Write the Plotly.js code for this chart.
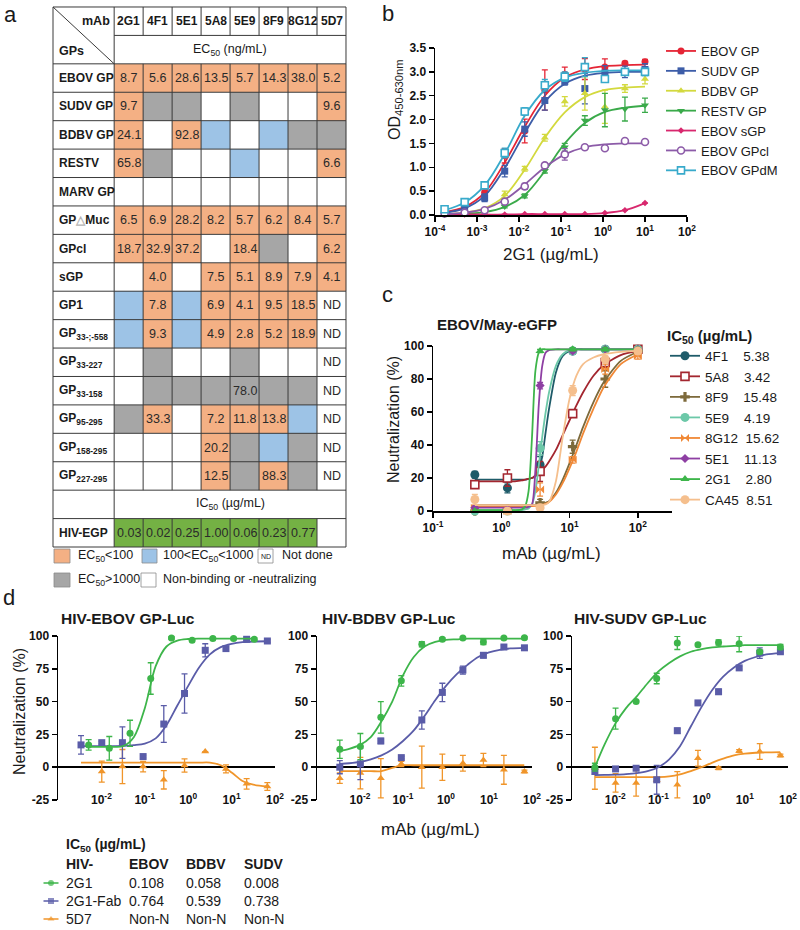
<!DOCTYPE html>
<html>
<head>
<meta charset="utf-8">
<script src="https://cdn.plot.ly/plotly-3.0.1.min.js"></script>
<style>
html,body{margin:0;padding:0;background:#ffffff;}
#chart{width:800px;height:930px;}
</style>
</head>
<body>
<div id="chart"></div>
<script>
// ======================= DATA =======================
// ---- Panel a : binding / neutralization table ----
const mAbs = ['2G1','4F1','5E1','5A8','5E9','8F9','8G12','5D7'];
const gpLabels = ['EBOV GP','SUDV GP','BDBV GP','RESTV','MARV GP',
  'GP<span style="color:#b5b5b5">△</span>Muc','GPcl','sGP','GP1',
  'GP<sub>33-;-558</sub>','GP<sub>33-227</sub>','GP<sub>33-158</sub>',
  'GP<sub>95-295</sub>','GP<sub>158-295</sub>','GP<sub>227-295</sub>'];
// o: EC50<100, b: 100<EC50<1000, g: EC50>1000, w: non-binding, n: not done
const ec50Class = ['oooooooo','oggwgwwo','owobwbgg','ogwwbwwo','wwwwwwww',
  'oooooooo','ooowogwo','wowooooo','boboooon','boboooon',
  'wgwwgwwn','wggggggn','gowooobn','wwwogbgn','wwwogogn'];
const ec50Values = [
  ['8.7','5.6','28.6','13.5','5.7','14.3','38.0','5.2'],
  ['9.7','','','','','','','9.6'],
  ['24.1','','92.8','','','','',''],
  ['65.8','','','','','','','6.6'],
  ['','','','','','','',''],
  ['6.5','6.9','28.2','8.2','5.7','6.2','8.4','5.7'],
  ['18.7','32.9','37.2','','18.4','','','6.2'],
  ['','4.0','','7.5','5.1','8.9','7.9','4.1'],
  ['','7.8','','6.9','4.1','9.5','18.5','ND'],
  ['','9.3','','4.9','2.8','5.2','18.9','ND'],
  ['','','','','','','','ND'],
  ['','','','','78.0','','','ND'],
  ['','33.3','','7.2','11.8','13.8','','ND'],
  ['','','','20.2','','','','ND'],
  ['','','','12.5','','88.3','','ND']
];
const hivLabel = 'HIV-EGP';
const hivIC50 = ['0.03','0.02','0.25','1.00','0.06','0.23','0.77',''];
const hivClass = 'GGGGGGGw';

// ---- Panel b : ELISA binding of 2G1 ----
const bConc = [0.000169,0.000508,0.00152,0.00457,0.0137,0.0412,0.123,0.370,1.11,3.33,10];
const bNames = ['EBOV GP','SUDV GP','BDBV GP','RESTV GP','EBOV sGP','EBOV GPcl','EBOV GPdM'];
const bEBOVGP   = [0.06,0.16,0.47,1.24,1.76,2.62,2.95,3.06,3.10,3.18,3.21];
const bSUDVGP   = [0.05,0.15,0.36,0.92,1.80,2.40,2.80,2.65,2.98,3.00,3.05];
const bBDBVGP   = [0.02,0.05,0.10,0.43,0.97,1.62,2.38,2.55,2.27,2.65,2.85];
const bRESTVGP  = [0.01,0.03,0.06,0.18,0.40,0.93,1.42,1.98,2.20,2.22,2.30];
const bEBOVsGP  = [0.01,0.01,0.01,0.01,0.02,0.02,0.02,0.02,0.04,0.10,0.25];
const bEBOVGPcl = [0.03,0.05,0.10,0.28,0.60,1.04,1.27,1.42,1.40,1.55,1.53];
const bEBOVGPdM = [0.12,0.27,0.62,1.30,2.17,2.72,2.90,3.10,2.85,3.00,3.00];
const bEBOVGPErr   = [0.02,0.04,0.05,0.15,0.25,0.42,0.15,0.22,0.17,0.04,0.05];
const bSUDVGPErr   = [0.02,0.04,0.08,0.12,0.15,0.20,0.08,0.32,0.15,0.12,0.12];
const bBDBVGPErr   = [0.01,0.02,0.03,0.07,0.05,0.07,0.10,0.35,0.35,0.08,0.10];
const bRESTVGPErr  = [0.01,0.01,0.02,0.03,0.04,0.05,0.08,0.10,0.35,0.25,0.15];
const bEBOVsGPErr  = [0,0,0,0,0,0,0,0,0,0,0];
const bEBOVGPclErr = [0.01,0.02,0.02,0.04,0.06,0.04,0.12,0.05,0.03,0.02,0.02];
const bEBOVGPdMErr = [0.02,0.03,0.05,0.10,0.08,0.12,0.10,0.20,0.05,0.06,0.08];
// fitted curves read at the same concentrations
const bEBOVGPFit   = [0.06,0.17,0.47,1.10,1.85,2.50,2.88,3.05,3.12,3.14,3.15];
const bSUDVGPFit   = [0.05,0.14,0.40,0.98,1.72,2.37,2.75,2.92,2.98,3.00,3.00];
const bBDBVGPFit   = [0.02,0.05,0.14,0.40,0.95,1.62,2.15,2.47,2.62,2.67,2.69];
const bRESTVGPFit  = [0.01,0.03,0.06,0.17,0.42,0.92,1.50,1.93,2.16,2.25,2.29];
const bEBOVsGPFit  = [0.01,0.01,0.01,0.01,0.02,0.02,0.02,0.02,0.04,0.10,0.25];
const bEBOVGPclFit = [0.02,0.05,0.13,0.32,0.64,1.00,1.27,1.42,1.48,1.50,1.50];
const bEBOVGPdMFit = [0.10,0.26,0.62,1.28,2.08,2.62,2.88,2.98,3.02,3.03,3.03];
const bTickVals = [1e-4,1e-3,1e-2,1e-1,1,10,100];
const bTickText = ['10<sup>-4</sup>','10<sup>-3</sup>','10<sup>-2</sup>','10<sup>-1</sup>','10<sup>0</sup>','10<sup>1</sup>','10<sup>2</sup>'];

// ---- Panel c : EBOV/May-eGFP neutralization ----
const cConc = [0.41,1.23,3.7,11.1,33.3,100];
const cNames = ['4F1','5A8','8F9','5E9','8G12','5E1','2G1','CA45'];
const cIC50 = ['5.38','3.42','15.48','4.19','15.62','11.13','2.80','8.51'];
const c4F1  = [22,14,28,97,98,98];
const c5A8  = [16,20,24,59,90,98];
const c8F9  = [0,1,5,39,80,97];
const c5E9  = [0,0,38,97,98,98];
const c8G12 = [2,0,13,31,86,94];
const c5E1  = [2,1,76,97,98,98];
const c2G1  = [0,0,97,98,98,98];
const cCA45 = [7,0,2,73,92,97];
const c4F1Err  = [2,3,5,1,1,1];
const c5A8Err  = [2,5,6,2,3,1];
const c8F9Err  = [1,1,2,4,5,1];
const c5E9Err  = [1,1,4,1,1,1];
const c8G12Err = [1,1,4,2,3,2];
const c5E1Err  = [1,1,2,1,1,1];
const c2G1Err  = [0,0,1,1,1,1];
const cCA45Err = [3,1,2,3,2,1];
const cFitConc = [0.41,1.0,1.58,2.0,2.24,2.51,2.82,3.16,3.55,3.98,4.47,5.01,6.31,7.94,10.0,12.6,15.8,22.4,31.6,56.2,100];
const c4F1Fit  = [19,19,19,19,19,19.5,20,21,25,33,48,62,84,94,97,98,98,98,98,98,98];
const c5A8Fit  = [18,18,18,18.5,19,19.5,20,21.5,23,25,27,30,37,46,55,64,72,82,88.5,94.5,97];
const c8F9Fit  = [3.5,3.5,3.5,3.5,3.5,3.5,3.5,3.6,3.8,4,5,6,11,19,29,40,51,66,78,91,96.5];
const c5E9Fit  = [0.5,0.5,0.5,0.5,1,1.5,4,12,28,45,60,72,88,95,97.5,98,98,98,98,98,98];
const c8G12Fit = [3,3,3,3,3,3,3,3.1,3.3,3.6,4.5,5.5,10,17,26,36,47,62,75,89,95];
const c5E1Fit  = [2,2,2,2,2,2.5,4,25,65,88,96,97.5,98,98,98,98,98,98,98,98,98];
const c2G1Fit  = [0.5,0.5,0.5,1,3,12,45,85,96,98,98,98,98,98,98,98,98,98,98,98,98];
const cCA45Fit = [3.5,3.5,3.5,3.5,3.5,3.5,3.5,3.5,3.5,3.6,4,5.5,18,45,68,82,89,93,95,96.5,97];
const cTickVals = [0.1,1,10,100];
const cTickText = ['10<sup>-1</sup>','10<sup>0</sup>','10<sup>1</sup>','10<sup>2</sup>'];

// ---- Panel d : HIV pseudovirus neutralization ----
const dSeries = ['2G1','2G1-Fab','5D7'];
const dConcA = [0.00339,0.0102,0.0305,0.0914,0.274,0.823,2.47,7.41,22.2,66.7];
const dConcEbov2G1 = [0.00508,0.0152,0.0457,0.137,0.412,1.23,3.70,11.1,33.3];
const dConcEbov5D7 = [0.0102,0.0305,0.0914,0.274,0.823,2.47,7.41,22.2,66.7];
const dEbov2G1 = [17,14.4,25.8,67.6,98.5,96.7,98,98,97.5];
const dEbovFab = [17,18.7,18.7,8.1,32.9,56.2,89.1,90.4,97.5,96.2];
const dEbov5D7 = [-3.3,0.5,0.5,-9.6,1.3,11.9,-1.3,-12.7,-14.7];
const dEbov2G1Err = [4,9,10,12,1,1,1,1,1];
const dEbovFabErr = [7,1,12,1,14,15,5,1,1,1];
const dEbov5D7Err = [8,13,4,7,5,0,3,4,3];
const dBdbv2G1 = [13.7,15.7,38,65.8,93.7,97.5,98.5,95.4,98.5,98.7];
const dBdbvFab = [0,2.5,20,7.3,36,57,74,85.3,91.6,91];
const dBdbv5D7 = [-8.4,-4.5,-8.4,2.5,0,0,3,5.5,-2,-3.3];
const dBdbv2G1Err = [7,10,12,4,2,1,1,2,1,1];
const dBdbvFabErr = [5,12,2,1,7,7,3,2,1,1];
const dBdbv5D7Err = [4,12,15,2,16,10,6,5,11,1];
const dSudv2G1 = [0,37,50,67.6,94.7,93.4,95,94,88,91.6];
const dSudvFab = [-3.3,-1.3,-0.8,-9.6,27.8,49,57.5,75.7,87,88];
const dSudv5D7 = [-0.8,-12,-12,-10,-13.4,6.8,-0.8,12.4,11.9,8.9];
const dSudv2G1Err = [3,8,1,4,5,1,2,6,1,2];
const dSudvFabErr = [2,1,1,11,2,1,2,1,4,1];
const dSudv5D7Err = [16,7,10,0,10,6,1,1,6,1];
const dFitConc = [0.00339,0.00562,0.01,0.0178,0.0316,0.0562,0.1,0.178,0.316,0.562,1,1.78,3.16,5.62,10,17.8,31.6,66.1];
const dEbov2G1Fit = [null,15.5,15.5,15.5,16,23,45,77,92,96.5,97.7,98,98,98,98,98,98,null];
const dEbovFabFit = [16,16,16,16.1,16.2,16.8,18,22,32,47,62,76,86,91.5,94,95.3,95.8,96];
const dEbov5D7Fit = [3.5,3.5,3.5,3.5,3.5,3.5,3.5,3.5,3.5,3.5,3.5,3.5,3.5,1.5,-4,-10.5,-13.3,-14.6];
const dBdbv2G1Fit = [12.5,14,17,23,35,50,70,84,92,95.5,97,97.5,98,98,98,98,98,98];
const dBdbvFabFit = [2.5,3,4,6,9,13.5,20,28,39,51,62,71,78,84,87.5,89.5,90.5,91];
const dBdbv5D7Fit = [-3,-3,-3,-3,-3,-0.5,1.5,1.5,1.5,1.5,1.5,1.5,1.5,1.5,1.5,1.5,1.5,1.5];
const dSudv2G1Fit = [0,17,33,45,54,64,73,79.5,84.5,88,90,91.3,92,92.5,93,93,93,93];
const dSudvFabFit = [-6,-5.9,-5.7,-5.3,-4.5,-3,0,6,16,31,46,59,69,76,81,84,86,87];
const dSudv5D7Fit = [-7.5,-7.5,-7.5,-7.5,-7.5,-7.5,-7.5,-7,-5.5,-3,0,3.5,6.5,9,10.3,11,11.3,11.5];
const dPanelTitles = ['HIV-EBOV GP-Luc','HIV-BDBV GP-Luc','HIV-SUDV GP-Luc'];
const dIC50Ebov = ['0.108','0.764','Non-N'];
const dIC50Bdbv = ['0.058','0.539','Non-N'];
const dIC50Sudv = ['0.008','0.738','Non-N'];
const dTickVals = [0.01,0.1,1,10,100];
const dTickText = ['10<sup>-2</sup>','10<sup>-1</sup>','10<sup>0</sup>','10<sup>1</sup>','10<sup>2</sup>'];
const dYTicks = [-25,0,25,50,75,100];
const dYTickText = ['-25','0','25','50','75','100'];

// ======================= STYLE / BUILD =======================
const W = 800, H = 930;
const FONT = 'Liberation Sans, Arial, Helvetica, sans-serif';
const X = p => p / W;
const Y = p => 1 - p / H;
const traces = [], annotations = [], shapes = [];

const gapY = a => a.flatMap(v => [v, null]);
const gapX = a => a.flatMap(v => [v, v]);

function ann(text, xpx, ypx, o) {
  const f = Object.assign({family: FONT, size: 13, color: '#1a1a1a'}, (o && o.font) || {});
  annotations.push(Object.assign({text: text, x: X(xpx), y: Y(ypx), xref: 'paper', yref: 'paper',
    showarrow: false, xanchor: 'left', yanchor: 'middle'}, o || {}, {font: f}));
}

// ---------- Panel a table ----------
const cellColors = {orange: '#F4B084', blue: '#9DC3E6', gray: '#A6A6A6', green: '#74B144'};
const classCode = {w: 0, n: 0, o: 1, b: 2, g: 3, G: 4};
const TL = -2.11;
const tableRows = ['', ''].concat(gpLabels, ['', hivLabel]);
const nR = tableRows.length;
const zCells = [], tCells = [];
tableRows.forEach((lab, r) => {
  if (r >= 2 && r < 2 + gpLabels.length) {
    zCells.push(ec50Class[r - 2].split('').map(c => classCode[c]));
    tCells.push(ec50Values[r - 2]);
  } else if (r === nR - 1) {
    zCells.push(hivClass.split('').map(c => classCode[c]));
    tCells.push(hivIC50);
  } else {
    zCells.push(mAbs.map(() => 0));
    tCells.push(mAbs.map(() => ''));
  }
});
traces.push({
  type: 'heatmap', xaxis: 'x6', yaxis: 'y6',
  x: mAbs.map((_, i) => i + 0.5), y: tableRows.map((_, r) => r + 0.5), z: zCells,
  colorscale: [[0, '#ffffff'], [0.2, '#ffffff'], [0.2, cellColors.orange], [0.4, cellColors.orange],
    [0.4, cellColors.blue], [0.6, cellColors.blue], [0.6, cellColors.gray], [0.8, cellColors.gray],
    [0.8, cellColors.green], [1, cellColors.green]],
  zmin: 0, zmax: 4, showscale: false, hoverinfo: 'skip'
});
const tline = (x0, y0, x1, y1) => ({type: 'line', xref: 'x6', yref: 'y6', x0, y0, x1, y1,
  line: {color: '#3a3a3a', width: 1}, layer: 'above'});
for (let r = 0; r <= nR; r++) shapes.push(tline(r === 1 ? 0 : TL, r, mAbs.length, r));
[TL, 0, mAbs.length].forEach(x => shapes.push(tline(x, 0, x, nR)));
for (let c = 1; c < mAbs.length; c++) {
  [[0, 1], [2, nR - 2], [nR - 1, nR]].forEach(s => shapes.push(tline(c, s[0], c, s[1])));
}
shapes.push(tline(TL, 0, 0, 2));
const tAnn = (text, x, y, o) => annotations.push(Object.assign({text, x, y, xref: 'x6', yref: 'y6',
  showarrow: false, xanchor: 'center', yanchor: 'middle', font: {family: FONT, size: 12, color: '#1a1a1a'}}, o || {}));
// cell values
tCells.forEach((row, r) => row.forEach((v, c) => {
  if (v) tAnn(v, c + 0.5, r + 0.5, {font: {family: FONT, size: 12.5, color: '#2a2a2a'}});
}));
mAbs.forEach((m, i) => tAnn('<b>' + m + '</b>', i + 0.5, 0.5));
tAnn('<b>mAb</b>', -0.07, 0.5, {xanchor: 'right', font: {family: FONT, size: 12.5, color: '#1a1a1a'}});
tAnn('<b>GPs</b>', TL + 0.14, 1.55, {xanchor: 'left', font: {family: FONT, size: 12.5, color: '#1a1a1a'}});
tAnn('EC<sub>50</sub> (ng/mL)', mAbs.length / 2, 1.5, {font: {family: FONT, size: 12.5, color: '#1a1a1a'}});
tAnn('IC<sub>50</sub> (µg/mL)', mAbs.length / 2, nR - 1.5, {font: {family: FONT, size: 12.5, color: '#1a1a1a'}});
tableRows.forEach((lab, r) => { if (lab) tAnn('<b>' + lab + '</b>', TL + 0.13, r + 0.5, {xanchor: 'left'}); });

// table legend
const sw = (x0, x1, y0, y1, fill) => shapes.push({type: 'rect', xref: 'paper', yref: 'paper',
  x0: X(x0), x1: X(x1), y0: Y(y1), y1: Y(y0), fillcolor: fill, line: {color: '#8a8a8a', width: 0.8}});
sw(54, 70, 549, 563, cellColors.orange);
sw(142, 157, 549, 563, cellColors.blue);
sw(258, 273, 549, 563, '#ffffff');
sw(54, 70, 573, 587, cellColors.gray);
sw(141, 156, 573, 587, '#ffffff');
ann('EC<sub>50</sub>&lt;100', 76, 556, {font: {size: 12.5}});
ann('100&lt;EC<sub>50</sub>&lt;1000', 161, 556, {font: {size: 12.5}});
ann('ND', 265.5, 556.5, {xanchor: 'center', font: {size: 7}});
ann('Not done', 280, 555, {font: {size: 12.5}});
ann('EC<sub>50</sub>&gt;1000', 76, 580, {font: {size: 12.5}});
ann('Non-binding or -neutralizing', 161, 579, {font: {size: 12.5}});

// ---------- Panel b ----------
const bMeans = [bEBOVGP, bSUDVGP, bBDBVGP, bRESTVGP, bEBOVsGP, bEBOVGPcl, bEBOVGPdM];
const bErrs = [bEBOVGPErr, bSUDVGPErr, bBDBVGPErr, bRESTVGPErr, bEBOVsGPErr, bEBOVGPclErr, bEBOVGPdMErr];
const bFits = [bEBOVGPFit, bSUDVGPFit, bBDBVGPFit, bRESTVGPFit, bEBOVsGPFit, bEBOVGPclFit, bEBOVGPdMFit];
const bColors = ['#E52535', '#3D5DA8', '#D3D93E', '#3AAA4A', '#D8286E', '#8C5BA8', '#38AACB'];
const bSymbols = ['circle', 'square', 'triangle-up', 'triangle-down', 'diamond', 'circle', 'square'];
const bOpen = [false, false, false, false, false, true, true];
const bSizes = [7, 7, 7, 7, 5, 7, 7];

function addSeries(o) {
  traces.push({x: o.fitX, y: o.fitY, xaxis: o.xa, yaxis: o.ya, mode: 'lines',
    line: {color: o.color, width: 1.8, shape: 'spline', smoothing: o.smooth || 1}, showlegend: false, hoverinfo: 'skip'});
  const marker = {symbol: o.symbol, size: o.size, color: o.open ? '#ffffff' : o.color,
    line: {color: o.color, width: o.open ? 1.6 : 0}};
  const errorY = {type: 'data', color: o.color, thickness: 1.3, width: 3, visible: true};
  if (o.legend) {
    errorY.array = gapY(o.err);
    traces.push({x: gapX(o.x), y: gapY(o.y), xaxis: o.xa, yaxis: o.ya, mode: 'lines+markers',
      line: {color: o.color, width: 1.8}, marker: marker, error_y: errorY, name: o.name,
      legend: o.legend, showlegend: true, cliponaxis: false, hoverinfo: 'skip'});
  } else {
    errorY.array = o.err;
    traces.push({x: o.x, y: o.y, xaxis: o.xa, yaxis: o.ya, mode: 'markers', marker: marker,
      error_y: errorY, showlegend: false, cliponaxis: false, hoverinfo: 'skip'});
  }
}
bNames.forEach((nm, i) => addSeries({x: bConc, y: bMeans[i], err: bErrs[i], fitX: bConc, fitY: bFits[i],
  xa: 'x', ya: 'y', color: bColors[i], symbol: bSymbols[i], open: bOpen[i], size: bSizes[i],
  name: nm, legend: 'legend'}));

// ---------- Panel c ----------
const cMeans = [c4F1, c5A8, c8F9, c5E9, c8G12, c5E1, c2G1, cCA45];
const cErrs = [c4F1Err, c5A8Err, c8F9Err, c5E9Err, c8G12Err, c5E1Err, c2G1Err, cCA45Err];
const cFits = [c4F1Fit, c5A8Fit, c8F9Fit, c5E9Fit, c8G12Fit, c5E1Fit, c2G1Fit, cCA45Fit];
const cColors = ['#1E5B69', '#A3262F', '#7D6A3B', '#6CC8A8', '#F08836', '#8E3FA3', '#3DB54A', '#F5BF8D'];
const cSymbols = ['circle', 'square', 'cross', 'circle', 'bowtie', 'diamond', 'triangle-up', 'circle'];
const cOpen = [false, true, false, false, false, false, false, false];
const cSizes = [9, 8, 8, 9, 8, 7, 8, 9];
cNames.forEach((nm, i) => addSeries({x: cConc, y: cMeans[i], err: cErrs[i], fitX: cFitConc, fitY: cFits[i],
  xa: 'x2', ya: 'y2', color: cColors[i], symbol: cSymbols[i], open: cOpen[i], size: cSizes[i], smooth: 0.7,
  name: nm + '\u00A0'.repeat(nm.length > 3 ? 2 : 4) + cIC50[i], legend: 'legend2'}));

// ---------- Panel d ----------
const dColors = ['#3DB54A', '#5A5CA8', '#F0952A'];
const dSymbols = ['circle', 'square', 'triangle-up'];
const dPanels = [
  {xa: 'x3', ya: 'y3', x: [dConcEbov2G1, dConcA, dConcEbov5D7], y: [dEbov2G1, dEbovFab, dEbov5D7],
    e: [dEbov2G1Err, dEbovFabErr, dEbov5D7Err], f: [dEbov2G1Fit, dEbovFabFit, dEbov5D7Fit]},
  {xa: 'x4', ya: 'y4', x: [dConcA, dConcA, dConcA], y: [dBdbv2G1, dBdbvFab, dBdbv5D7],
    e: [dBdbv2G1Err, dBdbvFabErr, dBdbv5D7Err], f: [dBdbv2G1Fit, dBdbvFabFit, dBdbv5D7Fit]},
  {xa: 'x5', ya: 'y5', x: [dConcA, dConcA, dConcA], y: [dSudv2G1, dSudvFab, dSudv5D7],
    e: [dSudv2G1Err, dSudvFabErr, dSudv5D7Err], f: [dSudv2G1Fit, dSudvFabFit, dSudv5D7Fit]}
];
dPanels.forEach(p => {
  [2, 1, 0].forEach(i => addSeries({x: p.x[i], y: p.y[i], err: p.e[i], fitX: dFitConc, fitY: p.f[i],
    xa: p.xa, ya: p.ya, color: dColors[i], symbol: dSymbols[i], open: false, size: 7, smooth: 0.9}));
});
// legend keys for panel d table
const keyX = [0, 1, 2];
dSeries.forEach((nm, i) => traces.push({x: keyX, y: keyX.map(() => i), xaxis: 'x7', yaxis: 'y7',
  mode: 'lines+markers', line: {color: dColors[i], width: 1.5},
  marker: {symbol: dSymbols[i], color: dColors[i], size: keyX.map((_, j) => j === 1 ? 6 : 0), line: {width: 0}},
  showlegend: false, hoverinfo: 'skip'}));
dSeries.forEach((nm, i) => {
  const row = {xref: 'paper', yref: 'y7', y: i, showarrow: false, xanchor: 'left', yanchor: 'middle',
    font: {family: FONT, size: 14, color: '#1a1a1a'}};
  annotations.push(Object.assign({}, row, {text: nm, x: X(64)}));
  annotations.push(Object.assign({}, row, {text: dIC50Ebov[i], x: X(127)}));
  annotations.push(Object.assign({}, row, {text: dIC50Bdbv[i], x: X(184)}));
  annotations.push(Object.assign({}, row, {text: dIC50Sudv[i], x: X(242)}));
});
ann('<b>IC<sub>50</sub> (µg/mL)</b>', 64, 845, {font: {size: 14}});
ann('<b>HIV-</b>', 64, 864, {font: {size: 14}});
ann('<b>EBOV</b>', 127, 864, {font: {size: 14}});
ann('<b>BDBV</b>', 184, 864, {font: {size: 14}});
ann('<b>SUDV</b>', 242, 864, {font: {size: 14}});

// ---------- text annotations ----------
ann('a', 2, 15, {font: {size: 22}});
ann('b', 380, 14, {font: {size: 22}});
ann('c', 380, 295, {font: {size: 22}});
ann('d', 1, 597, {font: {size: 22}});
ann('OD<sub>450-630nm</sub>', 395, 100, {xanchor: 'center', textangle: -90, font: {size: 16}});
ann('2G1 (µg/mL)', 551, 255, {xanchor: 'center', font: {size: 17}});
ann('<b>EBOV/May-eGFP</b>', 435, 324, {font: {size: 15}});
ann('Neutralization (%)', 393, 420, {xanchor: 'center', textangle: -90, font: {size: 16}});
ann('mAb (µg/mL)', 551, 553, {xanchor: 'center', font: {size: 17}});
ann('<b>' + dPanelTitles[0] + '</b>', 59, 618, {font: {size: 15.5}});
ann('<b>' + dPanelTitles[1] + '</b>', 320, 618, {font: {size: 15.5}});
ann('<b>' + dPanelTitles[2] + '</b>', 572, 618, {font: {size: 15.5}});
ann('Neutralization (%)', 19, 712, {xanchor: 'center', textangle: -90, font: {size: 16}});
ann('mAb (µg/mL)', 430, 829, {xanchor: 'center', font: {size: 17}});

// ---------- axes ----------
const axBase = {showline: true, linecolor: '#000', linewidth: 1.5, ticks: 'outside', ticklen: 5, tickwidth: 1.5,
  tickcolor: '#000', showgrid: false, zeroline: false, fixedrange: true,
  tickfont: {family: FONT, size: 12, weight: 'bold', color: '#111'}};
const hidden = {visible: false, showgrid: false, zeroline: false, fixedrange: true};
const dY = [Y(800), Y(636)];
const dX = (a, b, anc) => Object.assign({}, axBase, {type: 'log', range: [-3, 2], domain: [X(a), X(b)],
  anchor: anc, showline: false, ticks: '', ticklabelstandoff: -9, tickvals: dTickVals, ticktext: dTickText});
const dYax = anc => Object.assign({}, axBase, {range: [-25, 100], domain: dY, anchor: anc, tickvals: dYTicks,
  ticktext: dYTickText, zeroline: true, zerolinecolor: '#000', zerolinewidth: 1.5});

const layout = {
  width: W, height: H, margin: {l: 0, r: 0, t: 0, b: 0},
  paper_bgcolor: '#ffffff', plot_bgcolor: 'rgba(0,0,0,0)',
  font: {family: FONT, size: 12, color: '#1a1a1a'},
  showlegend: true,
  xaxis: Object.assign({}, axBase, {type: 'log', range: [-4, 2], domain: [X(435), X(687)], anchor: 'y',
    tickvals: bTickVals, ticktext: bTickText}),
  yaxis: Object.assign({}, axBase, {range: [0, 3.5], domain: [Y(215), Y(48)], anchor: 'x', dtick: 0.5, tickformat: '.1f'}),
  xaxis2: Object.assign({}, axBase, {type: 'log', range: [-1, 2.5], domain: [X(433), X(672)], anchor: 'y2',
    tickvals: cTickVals, ticktext: cTickText}),
  yaxis2: Object.assign({}, axBase, {range: [0, 100], domain: [Y(511), Y(346)], anchor: 'x2', dtick: 20}),
  xaxis3: dX(58, 275, 'y3'), yaxis3: dYax('x3'),
  xaxis4: dX(317, 532, 'y4'), yaxis4: dYax('x4'),
  xaxis5: dX(572, 788, 'y5'), yaxis5: dYax('x5'),
  xaxis6: Object.assign({}, hidden, {range: [TL - 0.035, mAbs.length + 0.035], domain: [X(52), X(347)], anchor: 'y6'}),
  yaxis6: Object.assign({}, hidden, {range: [nR + 0.035, -0.035], domain: [Y(548), Y(6)], anchor: 'x6'}),
  xaxis7: Object.assign({}, hidden, {range: [-0.2, 2.2], domain: [X(42), X(60)], anchor: 'y7'}),
  yaxis7: Object.assign({}, hidden, {range: [2.5, -0.5], domain: [Y(928), Y(874)], anchor: 'x7'}),
  legend: {x: X(661), y: Y(36), xanchor: 'left', yanchor: 'top', bgcolor: 'rgba(0,0,0,0)', borderwidth: 0,
    font: {family: FONT, size: 13, color: '#1a1a1a'}, tracegroupgap: 0, itemwidth: 30},
  legend2: {x: X(665), y: Y(321), xanchor: 'left', yanchor: 'top', bgcolor: 'rgba(0,0,0,0)', borderwidth: 0,
    font: {family: FONT, size: 13.5, color: '#1a1a1a'}, tracegroupgap: 0, itemwidth: 30,
    title: {text: '<b>IC<sub>50</sub> (µg/mL)</b>', font: {family: FONT, size: 15, color: '#1a1a1a'}}},
  annotations: annotations,
  shapes: shapes
};

Plotly.newPlot('chart', traces, layout, {displayModeBar: false, staticPlot: true});
</script>
</body>
</html>
